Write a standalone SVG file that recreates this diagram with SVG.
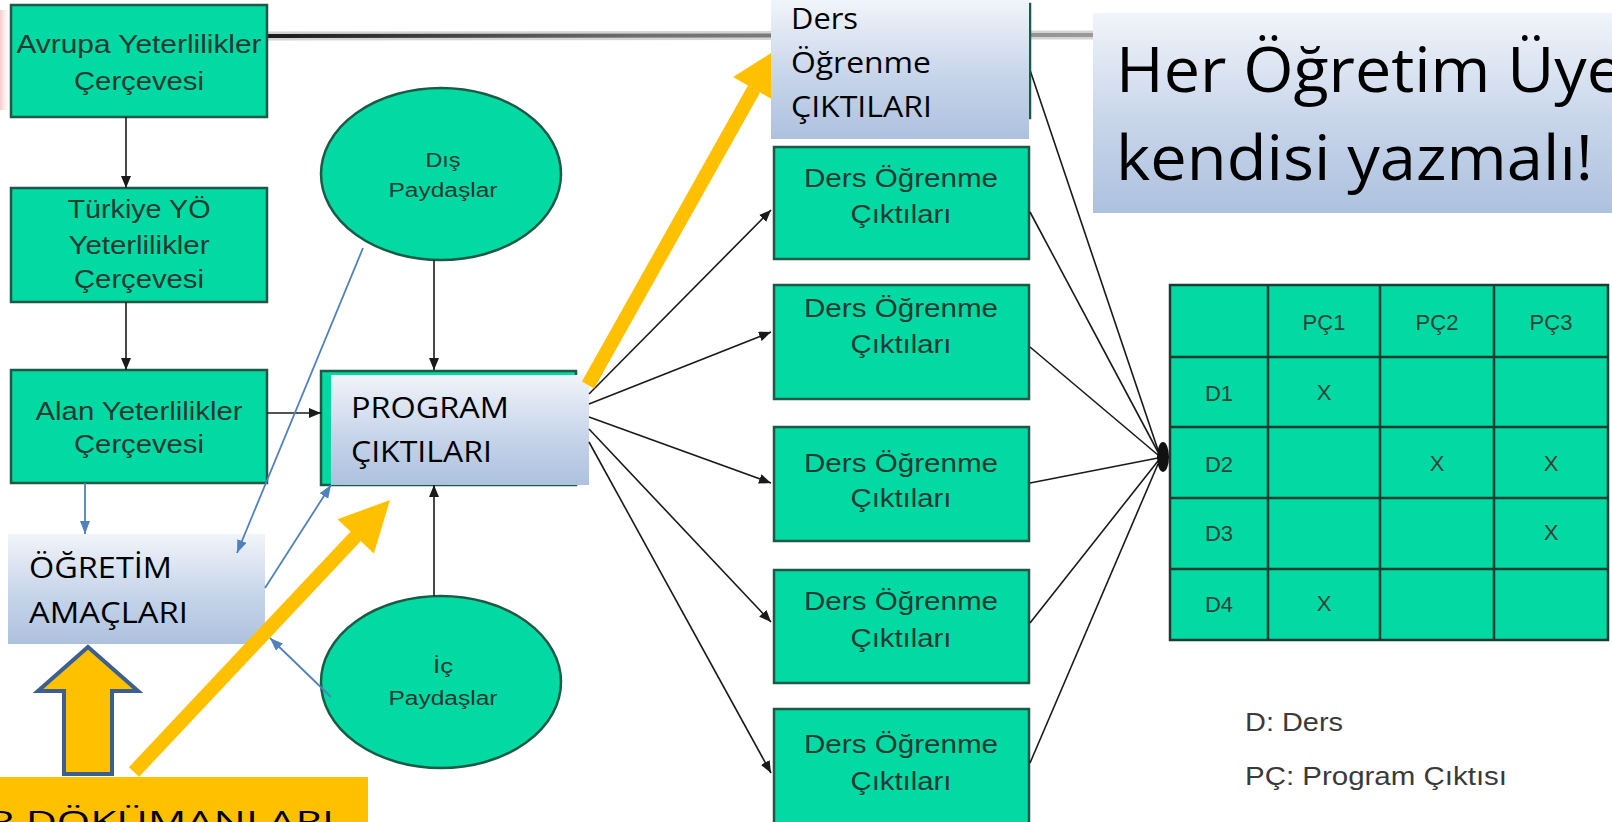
<svg xmlns="http://www.w3.org/2000/svg" width="1612" height="822" viewBox="0 0 1612 822">
<defs>
  <linearGradient id="gb" x1="0" y1="0" x2="0" y2="1">
    <stop offset="0" stop-color="#f1f4fa"/>
    <stop offset="0.55" stop-color="#c7d5ea"/>
    <stop offset="1" stop-color="#adc1de"/>
  </linearGradient>
  <linearGradient id="gline" gradientUnits="userSpaceOnUse" x1="267" y1="0" x2="1095" y2="0">
    <stop offset="0" stop-color="#1a1a1a"/>
    <stop offset="0.45" stop-color="#6e6e6e"/>
    <stop offset="1" stop-color="#9a9a9a"/>
  </linearGradient>
  <linearGradient id="red" x1="0" y1="0" x2="1" y2="0">
    <stop offset="0" stop-color="#f08a8a" stop-opacity="0.45"/>
    <stop offset="1" stop-color="#ffffff" stop-opacity="0"/>
  </linearGradient>
  <marker id="ak" viewBox="0 0 12 10" refX="12" refY="5" markerWidth="12" markerHeight="10" markerUnits="userSpaceOnUse" orient="auto">
    <path d="M0,0 L12,5 L0,10 z" fill="#1a1a1a"/>
  </marker>
  <marker id="ab" viewBox="0 0 13 10" refX="13" refY="5" markerWidth="13" markerHeight="10" markerUnits="userSpaceOnUse" orient="auto">
    <path d="M0,0 L13,5 L0,10 z" fill="#4f81bd"/>
  </marker>
</defs>
<style>
  .g { fill:#03d9a2; stroke:#1d5a45; stroke-width:2.5; }
  .gt { font-family:"Liberation Sans", Arial, sans-serif; font-size:25px; fill:#1f3a33; text-anchor:middle; }
  .st { font-family:"Liberation Sans", Arial, sans-serif; font-size:20px; fill:#1f3a33; text-anchor:middle; }
  .tt { font-family:"Liberation Sans", Arial, sans-serif; font-size:22px; fill:#2b4339; text-anchor:middle; }
  .lt { font-family:"Liberation Sans", Arial, sans-serif; font-size:26px; fill:#3a3a3a; }
  .bt { font-family:"Open Sans", "Noto Sans", sans-serif; font-size:30px; fill:#000; }
  .ht { font-family:"Open Sans", "Noto Sans", sans-serif; font-size:63px; fill:#000; }
  .grad { fill:url(#gb); }
  .k { stroke:#1a1a1a; stroke-width:1.6; fill:none; }
  .b { stroke:#4f81bd; stroke-width:1.8; fill:none; }
  .tl { stroke:#1a3d32; stroke-width:2.5; fill:none; }
  .y { fill:#ffc000; }
</style>

<rect x="0" y="0" width="1612" height="822" fill="#ffffff"/>
<rect x="0" y="10" width="12" height="100" fill="url(#red)"/>
<line x1="267" y1="36" x2="1095" y2="35" stroke="#d4d4d4" stroke-width="9"/>
<line x1="267" y1="36" x2="1095" y2="35" stroke="url(#gline)" stroke-width="4"/>

<g id="n-avrupa">
  <rect class="g" x="11" y="5" width="256" height="112"/>
  <text class="gt" x="139" y="53" textLength="245" lengthAdjust="spacingAndGlyphs">Avrupa Yeterlilikler</text>
  <text class="gt" x="139" y="90" textLength="130" lengthAdjust="spacingAndGlyphs">Çerçevesi</text>
</g>
<g id="n-turkiye">
  <rect class="g" x="11" y="188" width="256" height="114"/>
  <text class="gt" x="139" y="218" textLength="143" lengthAdjust="spacingAndGlyphs">Türkiye YÖ</text>
  <text class="gt" x="139" y="254" textLength="141" lengthAdjust="spacingAndGlyphs">Yeterlilikler</text>
  <text class="gt" x="139" y="288" textLength="130" lengthAdjust="spacingAndGlyphs">Çerçevesi</text>
</g>
<g id="n-alan">
  <rect class="g" x="11" y="370" width="256" height="113"/>
  <text class="gt" x="139" y="420" textLength="207" lengthAdjust="spacingAndGlyphs">Alan Yeterlilikler</text>
  <text class="gt" x="139" y="453" textLength="130" lengthAdjust="spacingAndGlyphs">Çerçevesi</text>
</g>
<g id="n-dis">
  <ellipse class="g" cx="441" cy="174" rx="120" ry="86" stroke-width="2"/>
  <text class="st" x="443" y="167" textLength="35" lengthAdjust="spacingAndGlyphs">Dış</text>
  <text class="st" x="443" y="197" textLength="109" lengthAdjust="spacingAndGlyphs">Paydaşlar</text>
</g>
<g id="n-ic">
  <ellipse class="g" cx="441" cy="682" rx="120" ry="86" stroke-width="2"/>
  <text class="st" x="443" y="673" textLength="20" lengthAdjust="spacingAndGlyphs">İç</text>
  <text class="st" x="443" y="705" textLength="109" lengthAdjust="spacingAndGlyphs">Paydaşlar</text>
</g>
<g id="n-program">
  <rect class="g" x="321" y="371" width="255" height="114"/>
  <rect class="grad" x="331" y="375" width="258" height="110"/>
  <text class="bt" x="351" y="418" textLength="158" lengthAdjust="spacingAndGlyphs">PROGRAM</text>
  <text class="bt" x="351" y="462" textLength="141" lengthAdjust="spacingAndGlyphs">ÇIKTILARI</text>
</g>
<g id="n-ogretim">
  <rect class="grad" x="8" y="534" width="257" height="110"/>
  <text class="bt" x="29" y="578" textLength="143" lengthAdjust="spacingAndGlyphs">ÖĞRETİM</text>
  <text class="bt" x="29" y="623" textLength="159" lengthAdjust="spacingAndGlyphs">AMAÇLARI</text>
</g>
<g id="n-ders1">
  <rect class="g" x="774" y="147" width="255" height="112"/>
  <text class="gt" x="901" y="187" textLength="194" lengthAdjust="spacingAndGlyphs">Ders Öğrenme</text>
  <text class="gt" x="901" y="223" textLength="101" lengthAdjust="spacingAndGlyphs">Çıktıları</text>
</g>
<g id="n-ders2">
  <rect class="g" x="774" y="285" width="255" height="114"/>
  <text class="gt" x="901" y="317" textLength="194" lengthAdjust="spacingAndGlyphs">Ders Öğrenme</text>
  <text class="gt" x="901" y="353" textLength="101" lengthAdjust="spacingAndGlyphs">Çıktıları</text>
</g>
<g id="n-ders3">
  <rect class="g" x="774" y="427" width="255" height="114"/>
  <text class="gt" x="901" y="472" textLength="194" lengthAdjust="spacingAndGlyphs">Ders Öğrenme</text>
  <text class="gt" x="901" y="507" textLength="101" lengthAdjust="spacingAndGlyphs">Çıktıları</text>
</g>
<g id="n-ders4">
  <rect class="g" x="774" y="570" width="255" height="113"/>
  <text class="gt" x="901" y="610" textLength="194" lengthAdjust="spacingAndGlyphs">Ders Öğrenme</text>
  <text class="gt" x="901" y="647" textLength="101" lengthAdjust="spacingAndGlyphs">Çıktıları</text>
</g>
<g id="n-ders5">
  <rect class="g" x="774" y="709" width="255" height="118"/>
  <text class="gt" x="901" y="753" textLength="194" lengthAdjust="spacingAndGlyphs">Ders Öğrenme</text>
  <text class="gt" x="901" y="790" textLength="101" lengthAdjust="spacingAndGlyphs">Çıktıları</text>
</g>
<g id="n-her">
  <rect class="grad" x="1093" y="13" width="530" height="200"/>
  <text class="ht" x="1116" y="92" textLength="507" lengthAdjust="spacingAndGlyphs">Her Öğretim Üye</text>
  <text class="ht" x="1116" y="180" textLength="477" lengthAdjust="spacingAndGlyphs">kendisi yazmalı!</text>
</g>
<g id="n-table">
  <rect x="1170" y="285" width="438" height="355" fill="#03d9a2"/>
  <path class="tl" d="M1170,285 H1608 V640 H1170 Z M1268,285 V640 M1380,285 V640 M1494,285 V640 M1170,357 H1608 M1170,427 H1608 M1170,498 H1608 M1170,569 H1608"/>
  <text class="tt" x="1324" y="330">PÇ1</text>
  <text class="tt" x="1437" y="330">PÇ2</text>
  <text class="tt" x="1551" y="330">PÇ3</text>
  <text class="tt" x="1219" y="401">D1</text>
  <text class="tt" x="1219" y="472">D2</text>
  <text class="tt" x="1219" y="541">D3</text>
  <text class="tt" x="1219" y="612">D4</text>
  <text class="tt" x="1324" y="400" font-size="20">X</text>
  <text class="tt" x="1437" y="471" font-size="20">X</text>
  <text class="tt" x="1551" y="471" font-size="20">X</text>
  <text class="tt" x="1551" y="540" font-size="20">X</text>
  <text class="tt" x="1324" y="611" font-size="20">X</text>
</g>
<g id="n-legend">
  <text class="lt" x="1245" y="731" textLength="98" lengthAdjust="spacingAndGlyphs">D: Ders</text>
  <text class="lt" x="1245" y="785" textLength="262" lengthAdjust="spacingAndGlyphs">PÇ: Program Çıktısı</text>
</g>

<g id="connectors">
  <line class="k" x1="126" y1="117" x2="126" y2="188" marker-end="url(#ak)"/>
  <line class="k" x1="126" y1="302" x2="126" y2="370" marker-end="url(#ak)"/>
  <line class="k" x1="267" y1="413" x2="321" y2="413" marker-end="url(#ak)"/>
  <line class="k" x1="434" y1="260" x2="434" y2="370" marker-end="url(#ak)"/>
  <line class="k" x1="434" y1="596" x2="434" y2="485" marker-end="url(#ak)"/>
  <line class="k" x1="589" y1="381" x2="771" y2="55" marker-end="url(#ak)"/>
  <line class="k" x1="589" y1="394" x2="771" y2="210" marker-end="url(#ak)"/>
  <line class="k" x1="589" y1="404" x2="771" y2="332" marker-end="url(#ak)"/>
  <line class="k" x1="589" y1="417" x2="771" y2="483" marker-end="url(#ak)"/>
  <line class="k" x1="589" y1="429" x2="771" y2="622" marker-end="url(#ak)"/>
  <line class="k" x1="589" y1="442" x2="771" y2="773" marker-end="url(#ak)"/>
  <line class="k" x1="1030" y1="70" x2="1158" y2="450"/>
  <line class="k" x1="1030" y1="212" x2="1158" y2="452"/>
  <line class="k" x1="1030" y1="347" x2="1158" y2="455"/>
  <line class="k" x1="1030" y1="483" x2="1158" y2="458"/>
  <line class="k" x1="1030" y1="623" x2="1158" y2="461"/>
  <line class="k" x1="1030" y1="763" x2="1158" y2="464"/>
  <ellipse cx="1163" cy="457" rx="6" ry="15" fill="#111"/>
  <line class="b" x1="85" y1="483" x2="85" y2="534" marker-end="url(#ab)"/>
  <line class="b" x1="363" y1="248" x2="237" y2="553" marker-end="url(#ab)"/>
  <line class="b" x1="265" y1="588" x2="331" y2="485" marker-end="url(#ab)"/>
  <line class="b" x1="331" y1="697" x2="270" y2="638" marker-end="url(#ab)"/>
</g>

<g id="highlight-arrows">
  <line x1="134" y1="772" x2="356" y2="536" stroke="#ffc000" stroke-width="14"/>
  <polygon class="y" points="390,500 337.5,519.3 373.9,553.5"/>
  <line x1="588" y1="385" x2="754" y2="89" stroke="#ffc000" stroke-width="14"/>
  <polygon class="y" points="776,50 733,77 775,101"/>
</g>

<g id="n-ders0">
  <rect class="g" x="774" y="4" width="256" height="114"/>
  <rect class="grad" x="771" y="0" width="258" height="139"/>
  <text class="bt" x="791" y="29" textLength="67" lengthAdjust="spacingAndGlyphs">Ders</text>
  <text class="bt" x="791" y="73" textLength="140" lengthAdjust="spacingAndGlyphs">Öğrenme</text>
  <text class="bt" x="791" y="117" textLength="141" lengthAdjust="spacingAndGlyphs">ÇIKTILARI</text>
</g>

<g id="n-uparrow">
  <polygon points="88,647 138,691 112,691 112,774 64,774 64,691 38,691" fill="#ffc000" stroke="#3d5f8f" stroke-width="4" stroke-linejoin="miter"/>
</g>
<g id="n-docs">
  <rect class="y" x="0" y="777" width="368" height="48"/>
  <text class="bt" x="-12" y="832" font-size="46" textLength="346" lengthAdjust="spacingAndGlyphs">R DÖKÜMANLARI</text>
</g>
</svg>
